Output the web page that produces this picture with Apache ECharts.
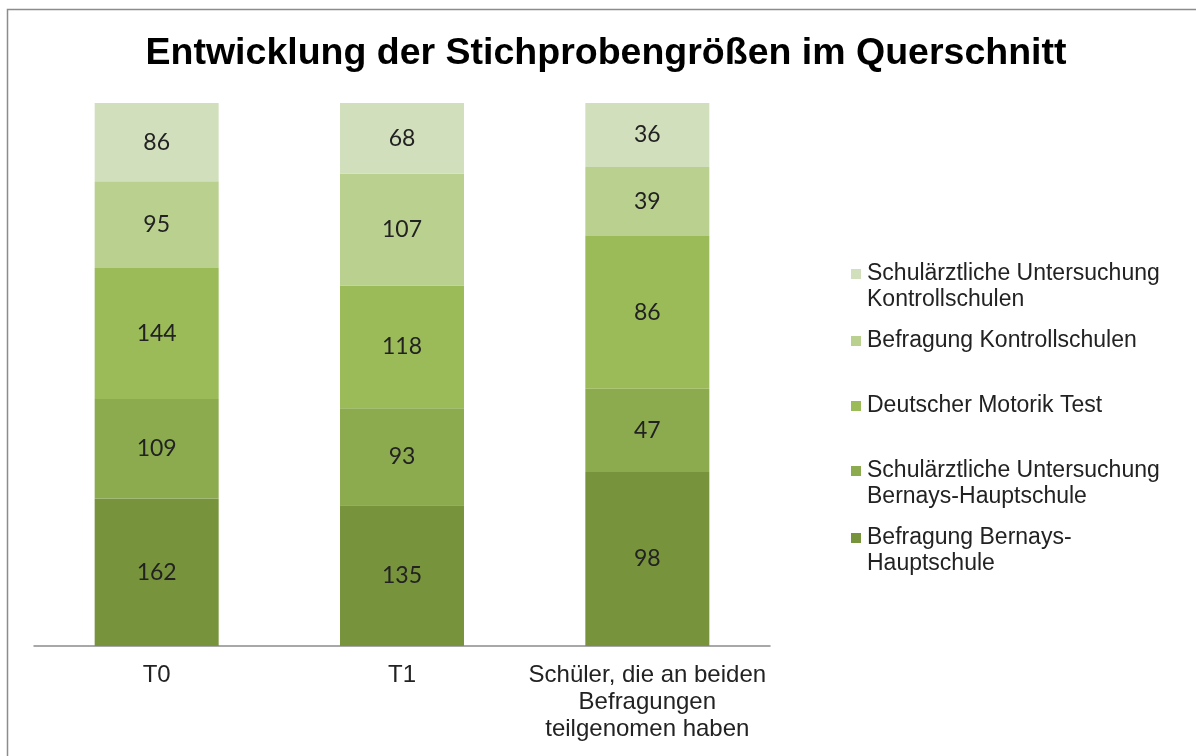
<!DOCTYPE html>
<html>
<head>
<meta charset="utf-8">
<script src="https://cdn.jsdelivr.net/npm/echarts@6/dist/echarts.min.js"></script>
<style>
  html, body { margin: 0; padding: 0; background: #fff; }
  #chart { width: 1196px; height: 756px; }
</style>
</head>
<body>
<div id="chart"></div>
<script>
const categories = ["T0", "T1", "Schüler, die an beiden\nBefragungen\nteilgenomen haben"];

// von unten nach oben gestapelt
const seriesNames = [
  "Befragung Bernays-\nHauptschule",
  "Schulärztliche Untersuchung\nBernays-Hauptschule",
  "Deutscher Motorik Test",
  "Befragung Kontrollschulen",
  "Schulärztliche Untersuchung\nKontrollschulen",
];
const befragungBernays = [162, 135, 98];
const untersuchungBernays = [109, 93, 47];
const motorikTest = [144, 118, 86];
const befragungKontroll = [95, 107, 39];
const untersuchungKontroll = [86, 68, 36];

const seriesValues = [befragungBernays, untersuchungBernays, motorikTest, befragungKontroll, untersuchungKontroll];
const colors = ["#77933c", "#8cab4e", "#9bbb59", "#bad08f", "#d2dfbd"];

// Summen je Kategorie für 100%-Stapel
const totals = categories.map((_, i) => seriesValues.reduce((s, arr) => s + arr[i], 0));

const chart = echarts.init(document.getElementById("chart"));

// Legende: Marker auf Höhe der ersten Zeile (wie Excel), daher per Rich-Text
const legendTops = [256, 323, 388, 453, 520];
const legends = [4, 3, 2, 1, 0].map((k, j) => ({
  data: [seriesNames[k]],
  left: 841,
  top: legendTops[j],
  orient: "vertical",
  icon: "none",
  itemWidth: 0,
  itemHeight: 10,
  itemGap: 0,
  selectedMode: false,
  formatter: (name) =>
    name.split("\n").map((line, i) => (i === 0 ? "{m|}" : "{g|}") + "{t|" + line + "}").join("\n"),
  textStyle: {
    fontFamily: "Liberation Sans",
    fontSize: 23,
    color: "#222",
    lineHeight: 26,
    rich: {
      m: { width: 10, height: 10, backgroundColor: colors[k], verticalAlign: "middle" },
      g: { width: 10 },
      t: { fontFamily: "Liberation Sans", fontSize: 23, color: "#222", lineHeight: 26, padding: [0, 0, 0, 6] },
    },
  },
}));

chart.setOption({
  animation: false,
  title: {
    text: "Entwicklung der Stichprobengrößen im Querschnitt",
    left: 601,
    textAlign: "center",
    top: 30,
    textStyle: { fontFamily: "Liberation Sans", fontWeight: "bold", fontSize: 37.5, color: "#000" },
  },
  graphic: [{
    type: "rect",
    shape: { x: 7.5, y: 9.5, width: 1300, height: 800 },
    style: { fill: "none", stroke: "#8c8c8c", lineWidth: 1.5 },
    silent: true,
  }],
  legend: legends,
  grid: { left: 34, top: 103, width: 736, height: 543 },
  xAxis: {
    type: "category",
    data: categories,
    axisTick: { show: false },
    axisLine: { lineStyle: { color: "#8c8c8c", width: 1.5 } },
    axisLabel: {
      fontFamily: "Liberation Sans",
      fontSize: 24,
      color: "#222",
      lineHeight: 27,
      margin: 16,
      interval: 0,
    },
  },
  yAxis: { type: "value", min: 0, max: 100, show: false },
  series: seriesValues.map((vals, k) => ({
    name: seriesNames[k],
    type: "bar",
    stack: "total",
    barWidth: 124,
    itemStyle: { color: colors[k] },
    data: vals.map((v, i) => ({ value: (v / totals[i]) * 100, raw: v })),
    label: {
      show: true,
      position: "inside",
      formatter: (p) => String(p.data.raw),
      fontFamily: "Lato",
      fontSize: 23,
      color: "#222",
    },
  })),
});
</script>
</body>
</html>
